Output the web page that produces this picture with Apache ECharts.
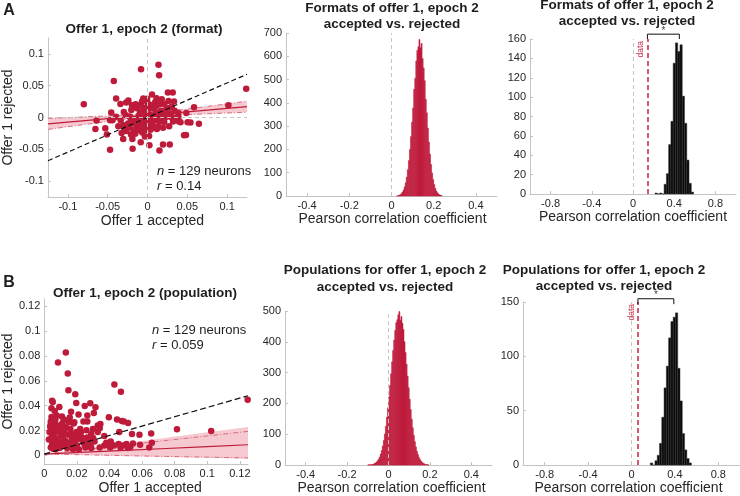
<!DOCTYPE html>
<html><head><meta charset="utf-8">
<script src="https://cdn.jsdelivr.net/npm/echarts@6/dist/echarts.min.js"></script>
<style>html,body{margin:0;padding:0;background:#fff}#c{width:740px;height:496px}</style>
</head><body><div id="c"></div><script>
// ---------- DATA ----------
// Panel A1: format scatter (x = offer 1 accepted, y = offer 1 rejected)
const formatAccepted = [0.0138,0.0146,-0.0081,-0.0423,-0.080,0.124,0.1016,0.0256,0.0317,0.0057,-0.0394,0.0114,-0.024,-0.034,0.0264,-0.0455,-0.064,-0.047,-0.0654,-0.053,-0.051,-0.047,-0.0305,-0.0187,-0.019,-0.0085,0.0024,0.015,0.0195,0.028,0.0459,0.0484,0.0646,0.054,0.0585,0.0488,0.0394,0.039,0.0386,0.0305,0.029,0.023,0.0187,0.0244,0.0159,0.0195,0.0118,0.0069,0.002,-0.0028,-0.0069,-0.004,-0.013,-0.0175,-0.0264,-0.0325,-0.0207,-0.0289,-0.011,-0.0175,-0.0224,-0.0272,-0.0297,-0.0203,-0.013,-0.0085,-0.015,-0.0053,0.0004,0.0057,0.002,0.0081,-0.002,0.0028,0.0102,0.0138,0.0045,0.0093,-0.0069,-0.0106,-0.0028,0.015,0.0211,0.0264,0.0341,0.0362,-0.0012,-0.0065,-0.0114,0.0012,-0.0033,-0.0305,-0.0337,-0.0394,-0.044,0.0415,0.0305,0.0179,0.0098,-0.0171,-0.0224,0.0057,0.013,0.0272,0.0211,0.0321,-0.0268,-0.0053,0.0037,-0.0093,-0.0207,-0.0134,-0.0004,-0.0366,-0.0195,0.0122,0.0333,-0.004,0.0069,0.0171,-0.0126,0.011,-0.0093,-0.0244,0.022,-0.0004,-0.0069,0.0504,-0.0154];
const formatRejected = [0.083,0.0666,0.076,0.0575,0.0208,0.0453,0.0192,0.0394,0.0394,0.0362,0.0298,0.0304,0.0266,0.0213,0.026,0.008,-0.0048,-0.0043,-0.018,-0.017,-0.0266,-0.0506,-0.034,-0.049,-0.034,-0.039,-0.0437,-0.052,-0.0426,-0.0426,-0.028,-0.0277,-0.010,-0.008,0.016,0.0069,-0.0064,0,0.0075,0.017,0.0053,0.0117,0.002,0.001,-0.0064,-0.016,-0.018,-0.016,-0.029,-0.020,-0.0165,-0.0085,-0.016,-0.020,-0.0213,-0.0245,-0.0266,-0.0176,-0.0069,-0.0016,0.0016,0.0037,0.0085,0.0117,0.0144,0.0197,0.0208,0.0106,0.0224,0.0197,0.0144,0.0138,0.0053,0.0053,0.0064,0.008,-0.0016,-0.0043,0,0.0037,0.0154,0.0208,0.0208,0.0144,0.0106,0,-0.0106,-0.0234,-0.020,-0.0165,-0.0298,-0.0122,-0.0043,0.001,-0.0043,-0.0075,0,0.0288,0.0245,-0.0096,-0.0154,-0.0096,-0.0138,-0.0138,-0.0069,-0.0064,0.0234,0.0298,-0.0192,-0.0138,-0.0043,0.0197,0.0293,-0.0138,0.0192,0.002,0.025,0,0.001,0.0106,-0.0016,0.018,0.009,-0.0096,0.0053,-0.0053,0.025,-0.0075,-0.0256];
const formatDashX = [-0.125, 0.125];
const formatDashY = [-0.068, 0.068];
const formatBandX = [-0.125,-0.1,-0.075,-0.05,-0.025,0,0.025,0.05,0.075,0.1,0.125];
const formatFit   = [-0.0100,-0.0073,-0.0046,-0.0019,0.0008,0.0035,0.0062,0.0089,0.0116,0.0143,0.0170];
const formatCiLo  = [-0.0187,-0.0145,-0.0104,-0.0063,-0.0025,0.0005,0.0029,0.0045,0.0058,0.0071,0.0083];
const formatCiHi  = [-0.0013,-0.0001,0.0012,0.0025,0.0041,0.0065,0.0095,0.0133,0.0174,0.0215,0.0257];

// Panel B1: population scatter
const popAccepted = [0.0132,0.0084,0.0144,0.0148,0.043,0.047,0.0048,0.0052,0.019,0.0196,0.0092,0.0064,0.0164,0.0248,0.0282,0.0314,0.0304,0.0044,0.0108,0.021,0.0396,0.0446,0.0476,0.0514,0.004,0.0068,0.0184,0.024,0.0264,0.0132,0.0328,0.034,0.0036,0.006,0.0088,0.0116,0.0148,0.018,0.0224,0.0258,0.0298,0.046,0.0538,0.0584,0.0656,0.0814,0.1024,0.1248,0.0044,0.0072,0.0104,0.0048,0.0076,0.012,0.0156,0.02,0.024,0.0284,0.03,0.034,0.0396,0.0408,0.0456,0.048,0.0504,0.0544,0.0644,0.066,0.004,0.0092,0.014,0.0188,0.0228,0.0168,0.006,0.008,0.0112,0.016,0.0192,0.0264,0.0308,0.0368,0.0428,0.0588,0.0056,0.01,0.0128,0.0212,0.0248,0.0032,0.004,0.0156,0.0068,0.0264,0.0344,0.0112,0.0136,0.0172,0.022,0.0368,0.0288,0.0488,0.0084,0.0048,0.0108,0.0068,0.0288,0.0468,0.0528,0.0198,0.0236,0.0152,0.0044,0.038,0.0328,0.018,0.012,0.0076,0.0176,0.0212,0.0252,0.0028,0.0096,0.0272,0.0404,0.0512,0.0052,0.0124,0.0184];
const popRejected = [0.0829,0.0749,0.0659,0.0525,0.0571,0.0512,0.044,0.0429,0.0493,0.0421,0.0389,0.0357,0.0352,0.0397,0.0419,0.0387,0.0341,0.0309,0.0312,0.0328,0.0307,0.0288,0.0277,0.0261,0.0253,0.0253,0.0267,0.0272,0.0272,0.0227,0.024,0.0219,0.0232,0.0192,0.0192,0.016,0.0165,0.0171,0.0181,0.0203,0.0213,0.0187,0.0171,0.0165,0.0176,0.0211,0.0195,0.0448,0.0144,0.0133,0.0107,0.0093,0.0085,0.008,0.0085,0.0075,0.0101,0.008,0.0139,0.0064,0.0101,0.0112,0.0091,0.008,0.0091,0.0096,0.0064,0.0101,0.0064,0.0059,0.0059,0.0064,0.0128,0.0128,0.016,0.0219,0.0261,0.0213,0.0112,0.0144,0.0112,0.008,0.008,0.0085,0.0117,0.0155,0.0117,0.0149,0.0085,0.0187,0.0272,0.0304,0.0288,0.032,0.0253,0.02,0.0101,0.008,0.0213,0.0155,0.0171,0.0272,0.0101,0.0213,0.0075,0.0048,0.0059,0.0064,0.0067,0.0187,0.0139,0.0267,0.0379,0.0101,0.0187,0.0256,0.0288,0.032,0.0048,0.0048,0.0064,0.0128,0.024,0.0117,0.0064,0.0059,0.0053,0.0187,0.0144];
const popDashX = [0, 0.125];
const popDashY = [0.001, 0.048];
const popBandX  = [0, 0.025, 0.05, 0.075, 0.1, 0.125];
const popFit    = [0.001, 0.0025, 0.004, 0.0055, 0.007, 0.0085];
const popCiLo   = [0.001, 0.0004, -0.0003, -0.0009, -0.0015, -0.0021];
const popCiHi   = [0.001, 0.0047, 0.0083, 0.012, 0.0156, 0.0193];
const popFillLo = [0.001, 0.0003, -0.0005, -0.0013, -0.002, -0.0028];
const popFillHi = [0.001, 0.0054, 0.0098, 0.0141, 0.0185, 0.0229];

// Panel A2: bootstrap distribution, formats (bins of 0.005 starting at 0.025)
const formatBootStart = 0.025, formatBootBin = 0.005;
const formatBootCounts = [1,2,4,6,10,17,26,39,57,81,113,152,200,255,317,378,458,505,580,625,641,672,636,655,590,550,495,415,357,292,232,180,135,99,71,49,33,22,14,9,5,3,2];
// Panel B2: bootstrap distribution, populations (bins of 0.005 starting at -0.1)
const popBootStart = -0.1, popBootBin = 0.005;
const popBootCounts = [1,1,1,1,2,3,5,7,10,14,19,26,36,47,62,80,101,126,155,186,221,258,296,335,372,406,437,462,472,488,498,470,482,460,440,400,365,327,289,251,214,180,149,121,97,76,59,45,34,25,18,13,9,6,4,3,2,1,1];
// Panel A3: null distribution, formats
const formatNullStart = 0.214, formatNullBin = 0.022;
const formatNullCounts = [1,0,1,0,10,21,51,75,135,156,147,154,101,73,35,11,2];
const formatR = 0.14, formatNullCenter = 0.45;
// Panel B3: null distribution, populations
const popNullStart = 0.174, popNullBin = 0.021;
const popNullCounts = [2,0,4,9,20,44,71,91,117,132,136,140,89,59,29,14,6,2];
const popR = 0.059, popNullCenter = 0.39;

// Tick labels
const ticksA1 = [-0.1,-0.05,0,0.05,0.1];
const ticksHistX = [-0.4,-0.2,0,0.2,0.4];
const ticksNullX = [-0.8,-0.4,0,0.4,0.8];
const ticksA2Y = [0,100,200,300,400,500,600,700];
const ticksA3Y = [0,20,40,60,80,100,120,140,160];
const ticksB1 = [0,0.02,0.04,0.06,0.08,0.1,0.12];
const ticksB2Y = [0,100,200,300,400,500];
const ticksB3Y = [0,50,100,150];

// ---------- CHART ----------
const FONT = '"Liberation Sans", Arial, sans-serif';
const RED = '#BE1A3A', PINK = '#F6C9D1', GRAY = '#c4c4c4', TXT = '#262626';
const zip = (a, b) => a.map((v, i) => [v, b[i]]);

function axis(idx, min, max, ticks, extra) {
  return Object.assign({
    type: 'value', gridIndex: idx, min: min, max: max,
    axisLine: { onZero: false, lineStyle: { color: GRAY, width: 1 } },
    axisTick: { inside: true, length: 3, lineStyle: { color: GRAY }, customValues: ticks },
    axisLabel: { color: TXT, fontSize: 11, fontFamily: FONT, margin: 4, customValues: ticks },
    splitLine: { show: false }
  }, extra || {});
}
function xName(name, gap, shift) {
  return { name: name, nameLocation: 'middle', nameGap: gap,
    nameTextStyle: { fontSize: 14, color: TXT, fontFamily: FONT,
      padding: shift >= 0 ? [0, 0, 0, 2 * shift] : [0, -2 * shift, 0, 0] } };
}
function histSeries(g, start, width, counts, color, edge) {
  return { type: 'custom', xAxisIndex: g, yAxisIndex: g, z: 3, silent: true,
    data: counts.map((c, i) => [start + (i + 0.5) * width, c]),
    encode: { x: 0, y: 1 },
    renderItem: function (params, api) {
      const c = api.value(0), h = api.value(1);
      const p0 = api.coord([c - width / 2, h]), p1 = api.coord([c + width / 2, 0]);
      return { type: 'rect', shape: { x: p0[0], y: p0[1], width: p1[0] - p0[0], height: p1[1] - p0[1] },
        style: { fill: color, stroke: edge, lineWidth: 0.5 } };
    } };
}
function bandSeries(g, xs, lo, hi, color) {
  return { type: 'custom', xAxisIndex: g, yAxisIndex: g, z: 1, silent: true,
    data: xs.map((x, i) => [x, lo[i], hi[i]]), encode: { x: 0, y: [1, 2] },
    renderItem: function (params, api) {
      if (params.dataIndex !== 0) return { type: 'group', children: [] };
      const pts = [];
      for (let i = 0; i < xs.length; i++) pts.push(api.coord([xs[i], hi[i]]));
      for (let i = xs.length - 1; i >= 0; i--) pts.push(api.coord([xs[i], lo[i]]));
      return { type: 'polygon', shape: { points: pts }, style: { fill: color } };
    } };
}
function lineSeries(g, data, color, width, type, z) {
  return { type: 'line', xAxisIndex: g, yAxisIndex: g, data: data, showSymbol: false, symbol: 'none',
    silent: true, z: z || 2, clip: false, lineStyle: { color: color, width: width, type: type } };
}
function zeroMarks(g, marks) {
  return { type: 'line', xAxisIndex: g, yAxisIndex: g, data: [], z: 0, silent: true,
    markLine: { silent: true, symbol: 'none', label: { show: false }, animation: false,
      lineStyle: { color: GRAY, type: [4, 3], width: 1 }, data: marks } };
}
function dataLine(g, r) {
  return { type: 'line', xAxisIndex: g, yAxisIndex: g, data: [], z: 4, silent: true,
    markLine: { silent: true, symbol: 'none', animation: false,
      lineStyle: { color: '#C8324E', type: [5, 3], width: 1.6 },
      label: { show: true, position: 'insideEndTop', formatter: 'data', color: '#C8324E', fontSize: 8.5, fontFamily: FONT, distance: 2 },
      data: [{ xAxis: r }] } };
}
function starSeries(g, x, y) {
  return { type: 'scatter', xAxisIndex: g, yAxisIndex: g, data: [[x, y]], symbolSize: 0, clip: false, silent: true, z: 5,
    label: { show: true, formatter: '*', position: 'inside', color: '#111', fontSize: 10, fontFamily: FONT } };
}
function text(x, y, str, size, weight, extra) {
  return { type: 'text', x: x, y: y, silent: true,
    style: Object.assign({ text: str, fontSize: size, fontWeight: weight || 'normal', fontFamily: FONT, fill: '#1e1e1e',
      align: 'center', verticalAlign: 'top', lineHeight: 16 }, extra || {}) };
}

const chart = echarts.init(document.getElementById('c'), null, { renderer: 'canvas' });
const option = {
  animation: false,
  textStyle: { fontFamily: FONT },
  grid: [
    { left: 43, top: 38, width: 204, height: 159 },
    { left: 286, top: 33, width: 211, height: 163 },
    { left: 530, top: 39, width: 206, height: 155 },
    { left: 40, top: 299, width: 208, height: 166 },
    { left: 285, top: 311, width: 207, height: 155 },
    { left: 523, top: 302, width: 217, height: 166 }
  ],
  xAxis: [
    axis(0, -0.125, 0.125, ticksA1, xName('Offer 1 accepted', 17, 5)),
    axis(1, -0.5, 0.5, ticksHistX, xName('Pearson correlation coefficient', 15, 1)),
    axis(2, -1, 1, ticksNullX, xName('Pearson correlation coefficient', 15, 0)),
    axis(3, 0, 0.125, ticksB1, xName('Offer 1 accepted', 17, 4)),
    axis(4, -0.5, 0.5, ticksHistX, xName('Pearson correlation coefficient', 14, 3)),
    axis(5, -1, 1, ticksNullX, xName('Pearson correlation coefficient', 13, -3))
  ],
  yAxis: [
    axis(0, -0.125, 0.125, ticksA1, { name: 'Offer 1 rejected', nameLocation: 'middle', nameGap: 26,
      nameTextStyle: { fontSize: 14, color: TXT, fontFamily: FONT } }),
    axis(1, 0, 700, ticksA2Y),
    axis(2, 0, 160, ticksA3Y),
    axis(3, -0.007, 0.126, ticksB1, { name: 'Offer 1 rejected', nameLocation: 'middle', nameGap: 23,
      nameTextStyle: { fontSize: 14, color: TXT, fontFamily: FONT } }),
    axis(4, 0, 500, ticksB2Y),
    axis(5, 0, 150, ticksB3Y)
  ],
  series: [
    // A1
    zeroMarks(0, [{ xAxis: 0 }, { yAxis: 0 }]),
    bandSeries(0, formatBandX, formatCiLo, formatCiHi, PINK),
    lineSeries(0, zip(formatBandX, formatCiLo), '#D0506A', 0.8, [5, 2, 1, 2], 2),
    lineSeries(0, zip(formatBandX, formatCiHi), '#D0506A', 0.8, [5, 2, 1, 2], 2),
    lineSeries(0, zip(formatBandX, formatFit), RED, 1.2, 'solid', 2),
    { type: 'scatter', xAxisIndex: 0, yAxisIndex: 0, data: zip(formatAccepted, formatRejected),
      symbolSize: 6.5, itemStyle: { color: RED, opacity: 1 }, z: 3, silent: true },
    lineSeries(0, zip(formatDashX, formatDashY), '#111', 1.2, [5, 3], 4),
    // A2
    zeroMarks(1, [{ xAxis: 0 }]),
    histSeries(1, formatBootStart, formatBootBin, formatBootCounts, RED, RED),
    // A3
    zeroMarks(2, [{ xAxis: 0 }]),
    histSeries(2, formatNullStart, formatNullBin, formatNullCounts, '#0a0a0a', '#333'),
    dataLine(2, formatR),
    lineSeries(2, [[formatR, 160], [formatR, 165], [formatNullCenter, 165], [formatNullCenter, 160]], '#111', 1, 'solid', 5),
    starSeries(2, (formatR + formatNullCenter) / 2, 168),
    // B1
    bandSeries(3, popBandX, popFillLo, popFillHi, PINK),
    lineSeries(3, zip(popBandX, popCiLo), '#D0506A', 0.8, [5, 2, 1, 2], 2),
    lineSeries(3, zip(popBandX, popCiHi), '#D0506A', 0.8, [5, 2, 1, 2], 2),
    lineSeries(3, zip(popBandX, popFit), RED, 1.2, 'solid', 2),
    { type: 'scatter', xAxisIndex: 3, yAxisIndex: 3, data: zip(popAccepted, popRejected),
      symbolSize: 6.5, itemStyle: { color: RED, opacity: 1 }, z: 3, silent: true },
    lineSeries(3, zip(popDashX, popDashY), '#111', 1.2, [6, 3], 4),
    // B2
    zeroMarks(4, [{ xAxis: 0 }]),
    histSeries(4, popBootStart, popBootBin, popBootCounts, RED, RED),
    // B3
    zeroMarks(5, [{ xAxis: 0 }]),
    histSeries(5, popNullStart, popNullBin, popNullCounts, '#0a0a0a', '#333'),
    dataLine(5, popR),
    lineSeries(5, [[popR, 148], [popR, 153], [popNullCenter, 153], [popNullCenter, 148]], '#111', 1, 'solid', 5),
    starSeries(5, (popR + popNullCenter) / 2, 156)
  ],
  graphic: [
    text(9, 3, 'A', 16, 'bold', { align: 'center' }),
    text(9, 275, 'B', 16, 'bold', { align: 'center' }),
    text(144, 21, 'Offer 1, epoch 2 (format)', 13.5, 'bold'),
    text(392, 0, 'Formats of offer 1, epoch 2\naccepted vs. rejected', 13.5, 'bold'),
    text(627, -3, 'Formats of offer 1, epoch 2\naccepted vs. rejected', 13.5, 'bold'),
    text(145, 285, 'Offer 1, epoch 2 (population)', 13.5, 'bold'),
    text(385, 262, 'Populations for offer 1, epoch 2\naccepted vs. rejected', 13.5, 'bold', { lineHeight: 17 }),
    text(604, 262, 'Populations for offer 1, epoch 2\naccepted vs. rejected', 13.5, 'bold'),
    text(157, 164, '{i|n} = 129 neurons\n{i|r} = 0.14', 13, 'normal',
      { align: 'left', lineHeight: 15, rich: { i: { fontStyle: 'italic', fontSize: 13, fontFamily: FONT } } }),
    text(152, 323, '{i|n} = 129 neurons\n{i|r} = 0.059', 13, 'normal',
      { align: 'left', lineHeight: 15, rich: { i: { fontStyle: 'italic', fontSize: 13, fontFamily: FONT } } })
  ]
};
chart.setOption(option);
</script></body></html>
